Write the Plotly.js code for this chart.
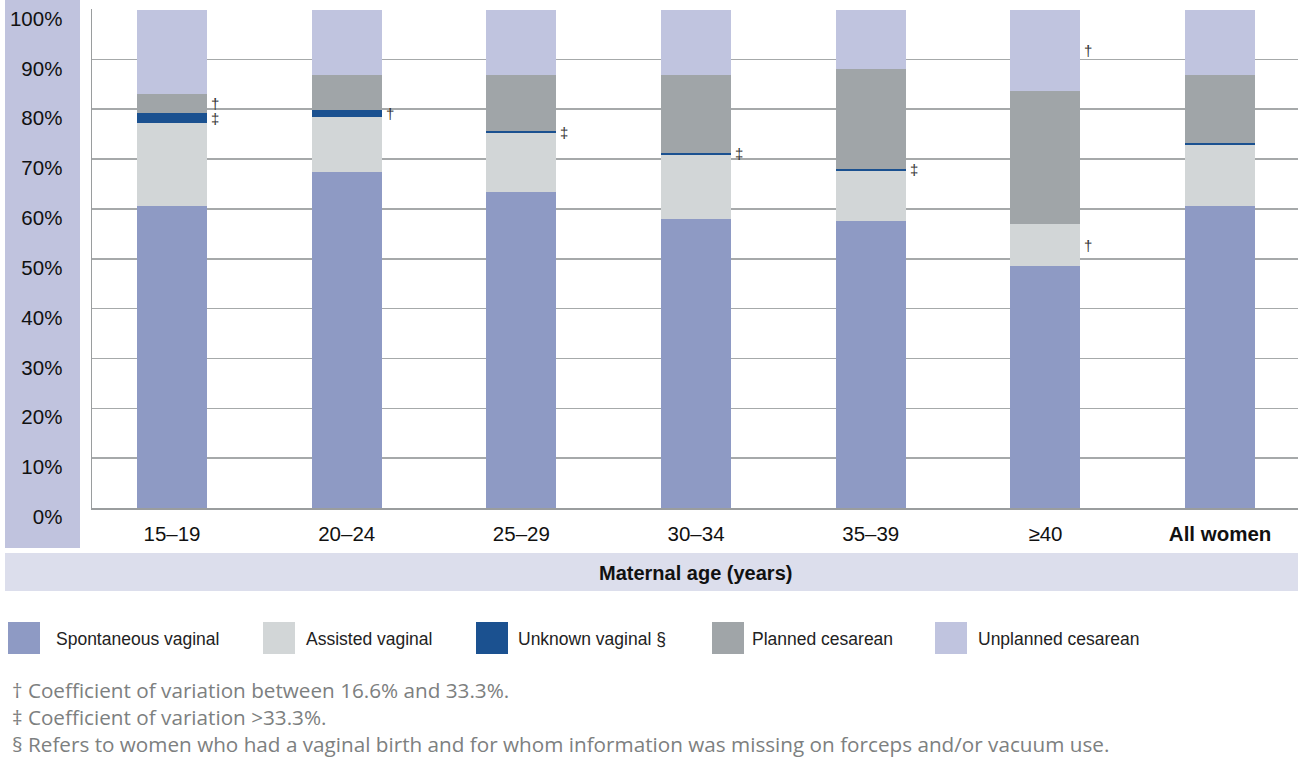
<!DOCTYPE html>
<html>
<head>
<meta charset="utf-8">
<script src="https://cdn.plot.ly/plotly-3.0.1.min.js"></script>
<style>html,body{margin:0;padding:0;background:#fff;}#chart{width:1298px;height:757px;}</style>
</head>
<body>
<div id="chart"></div>
<script>
// ---- Data ----
const categories = ['15–19', '20–24', '25–29', '30–34', '35–39', '≥40', 'All women'];
const spontaneousVaginal = [60.5, 67.5, 63.3, 57.9, 57.5, 48.5, 60.5];
const assistedVaginal    = [16.7, 10.9, 11.9, 12.9, 10.2, 8.4, 12.4];
const unknownVaginal     = [2.0, 1.4, 0.4, 0.5, 0.4, 0.0, 0.4];
const plannedCesarean    = [3.8, 7.0, 11.2, 15.5, 19.9, 26.7, 13.5];
const unplannedCesarean  = [17.0, 13.2, 13.2, 13.2, 12.0, 16.4, 13.2];
// Reliability flags per segment († CV 16.6–33.3%, ‡ CV >33.3%)
const spontaneousFlags = ['', '', '', '', '', '', ''];
const assistedFlags    = ['', '', '', '', '', '†', ''];
const unknownFlags     = ['‡', '†', '‡', '‡', '‡', '', ''];
const plannedFlags     = ['†', '', '', '', '', '', ''];
const unplannedFlags   = ['', '', '', '', '', '†', ''];
const yTickValues = [0, 10, 20, 30, 40, 50, 60, 70, 80, 90, 100];
const yTickLabels = ['0%', '10%', '20%', '30%', '40%', '50%', '60%', '70%', '80%', '90%', '100%'];
const seriesNames = ['Spontaneous vaginal', 'Assisted vaginal', 'Unknown vaginal §', 'Planned cesarean', 'Unplanned cesarean'];
const footnotes = [
  '† Coefficient of variation between 16.6% and 33.3%.',
  '‡ Coefficient of variation >33.3%.',
  '§ Refers to women who had a vaginal birth and for whom information was missing on forceps and/or vacuum use.'
];
const xTitle = 'Maternal age (years)';

// ---- Styles ----
const colors = ['#8e9ac4', '#d2d6d7', '#1b5190', '#a0a5a8', '#c0c4df'];
const seriesValues = [spontaneousVaginal, assistedVaginal, unknownVaginal, plannedCesarean, unplannedCesarean];
const seriesFlags = [spontaneousFlags, assistedFlags, unknownFlags, plannedFlags, unplannedFlags];

const L = 92, W = 1206, T = 9, H = 499;
const px2x = p => (p - L) / W;
const py2y = p => 1 - (p - T) / H;
const FONT = 'Liberation Sans, Arial, sans-serif';
const NOTEFONT = 'Open Sans, Liberation Sans, sans-serif';

const traces = seriesValues.map((vals, i) => ({
  type: 'bar',
  name: seriesNames[i],
  x: categories,
  y: vals,
  width: 0.40,
  marker: {color: colors[i], line: {width: 0}},
  showlegend: false,
  hoverinfo: 'name+y'
}));

const annotations = [];
// flag markers, placed at segment middle
const cum = categories.map(() => 0);
seriesValues.forEach((vals, i) => {
  vals.forEach((v, j) => {
    const mid = cum[j] + v / 2;
    const f = seriesFlags[i][j];
    if (f) {
      annotations.push({
        x: categories[j], y: mid, xref: 'x', yref: 'y',
        text: f, showarrow: false, xshift: 43,
        font: {family: FONT, size: 15, color: '#333333'}
      });
    }
    cum[j] += v;
  });
});

// x-axis title
annotations.push({
  x: px2x(695), y: py2y(573), xref: 'paper', yref: 'paper',
  text: '<b>' + xTitle + '</b>', showarrow: false,
  font: {family: FONT, size: 20, color: '#111'}, xanchor: 'center', yanchor: 'middle'
});

const shapes = [
  // y label band
  {type: 'rect', xref: 'paper', yref: 'paper', x0: px2x(5), x1: px2x(80), y0: py2y(548), y1: py2y(0),
   fillcolor: '#c0c3de', line: {width: 0}, layer: 'below'},
  // x title band
  {type: 'rect', xref: 'paper', yref: 'paper', x0: px2x(5), x1: px2x(1298), y0: py2y(591), y1: py2y(553),
   fillcolor: '#dcdeec', line: {width: 0}, layer: 'below'}
];

// custom legend
const legendSquareX = [8, 263, 476, 712, 935];
const legendTextX = [54, 304, 516, 750, 976];
seriesNames.forEach((n, i) => {
  shapes.push({type: 'rect', xref: 'paper', yref: 'paper',
    x0: px2x(legendSquareX[i]), x1: px2x(legendSquareX[i] + 32),
    y0: py2y(654), y1: py2y(622), fillcolor: colors[i], line: {width: 0}});
  annotations.push({x: px2x(legendTextX[i]), y: py2y(639), xref: 'paper', yref: 'paper',
    text: n, showarrow: false, xanchor: 'left', yanchor: 'middle',
    font: {family: FONT, size: 17.5, color: '#222'}});
});

// footnotes
const footY = [690, 717, 744];
footnotes.forEach((t, i) => {
  annotations.push({x: px2x(10), y: py2y(footY[i]), xref: 'paper', yref: 'paper',
    text: t, showarrow: false, xanchor: 'left', yanchor: 'middle',
    font: {family: NOTEFONT, size: 20.7, color: '#7d8080'}});
});

const layout = {
  width: 1298, height: 757,
  margin: {l: L, r: 0, t: T, b: 757 - T - H, pad: 0},
  paper_bgcolor: '#fff', plot_bgcolor: '#fff',
  barmode: 'stack',
  bargap: 0,
  showlegend: false,
  xaxis: {
    type: 'category',
    range: [-0.458, 6.446],
    tickvals: categories,
    ticktext: categories.map(c => c === 'All women' ? '<b>' + c + '</b>' : c),
    ticks: '', showgrid: false, zeroline: false,
    showline: true, linecolor: '#9a9d9e', linewidth: 1.5,
    ticklabelstandoff: 7,
    tickfont: {family: FONT, size: 20.5, color: '#111'},
    fixedrange: true
  },
  yaxis: {
    range: [0, 100.1],
    tickvals: yTickValues, ticktext: yTickLabels,
    ticks: '', showgrid: true, gridcolor: '#a6a9aa', gridwidth: 1.5,
    zeroline: false, showline: true, linecolor: '#9a9d9e', linewidth: 1.5,
    ticklabelshift: 9, ticklabelstandoff: 24,
    tickfont: {family: FONT, size: 20.5, color: '#111'},
    fixedrange: true
  },
  shapes: shapes,
  annotations: annotations
};

Plotly.newPlot('chart', traces, layout, {displayModeBar: false, staticPlot: true});
</script>
</body>
</html>
